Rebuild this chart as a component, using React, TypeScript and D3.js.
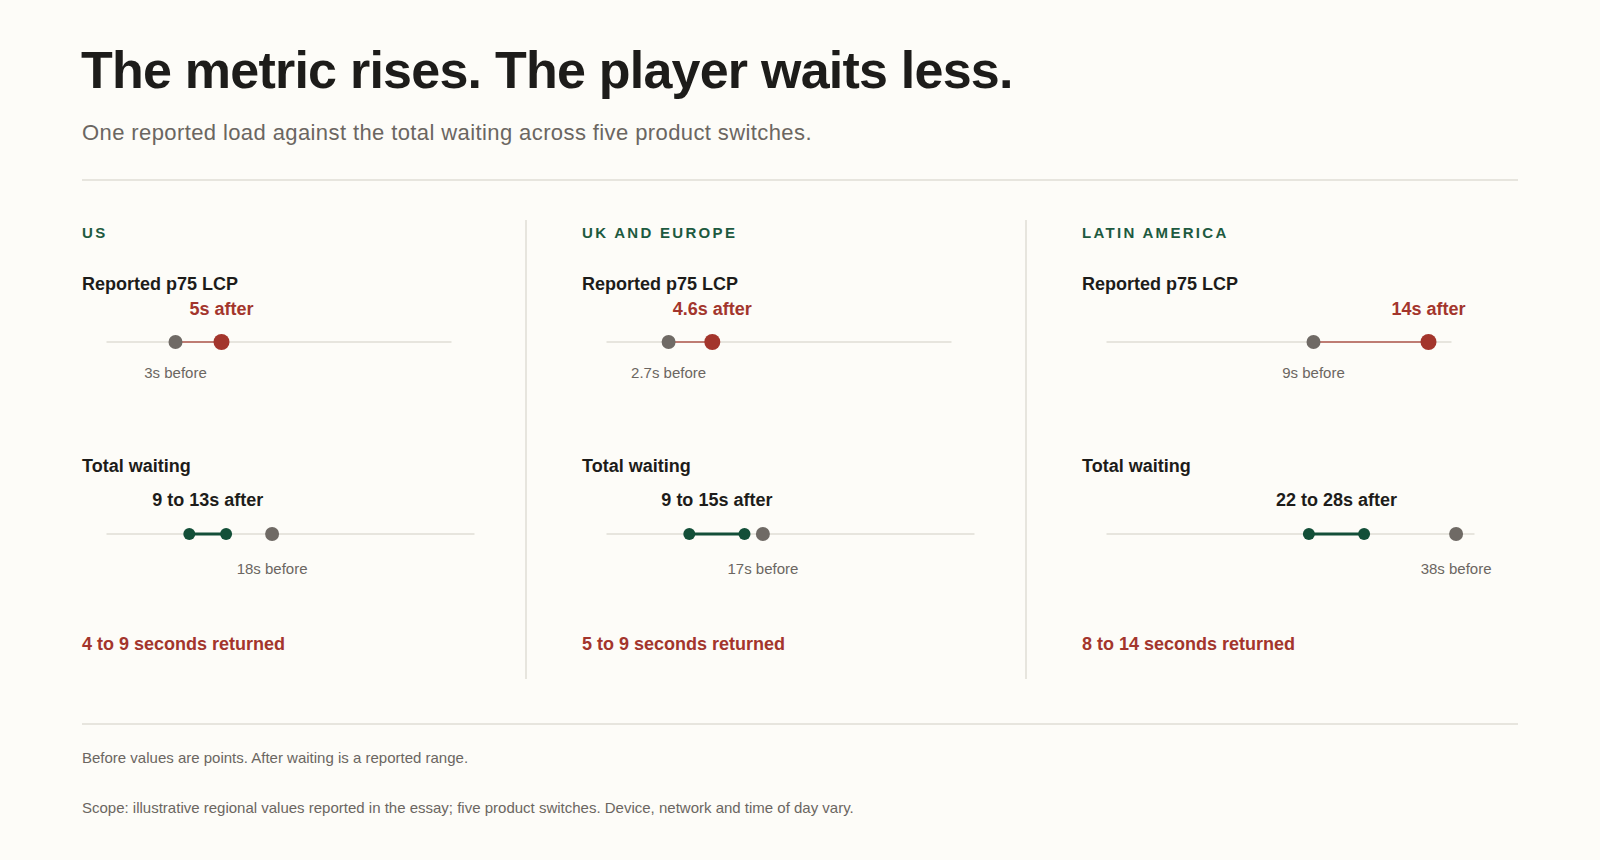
import React from "react";
import * as d3 from "d3";

const regions = ["US", "UK and Europe", "Latin America"];
const lcpBefore = [3, 2.7, 9];
const lcpAfter = [5, 4.6, 14];
const waitBefore = [18, 17, 38];
const waitAfterLow = [9, 9, 22];
const waitAfterHigh = [13, 15, 28];
const returnedLow = [4, 5, 8];
const returnedHigh = [9, 9, 14];

const lcpDomain = [0, 15];
const waitDomain = [0, 40];

const W = 1600;
const H = 860;
const FONT = "'Liberation Sans', Arial, Helvetica, sans-serif";
const BG = "#fdfcf8";
const RED = "#a3352c";
const GREEN = "#134f38";
const LABEL_GREEN = "#1d5a40";
const GRAY_DOT = "#6f6a65";
const GRAY_TEXT = "#6b6661";
const DARK = "#1d1c1a";
const RULE = "#e7e5de";

const colX = d3.scaleLinear().domain([0, 1]).range([82, 582]);

function fmt(v: number) {
  return `${v}s`;
}

function Region({ i }: { i: number }) {
  const x0 = colX(i);
  const lcpX = d3.scaleLinear().domain(lcpDomain).range([x0 + 24.5, x0 + 24.5 + 345]);
  const waitX = d3.scaleLinear().domain(waitDomain).range([x0 + 24.5, x0 + 24.5 + 368]);
  const lcpY = 342;
  const waitY = 534;
  const lo = waitX(waitAfterLow[i]);
  const hi = waitX(waitAfterHigh[i]);
  return (
    <g fontFamily={FONT}>
      <text x={x0} y={238} fontSize={15} fontWeight={700} fill={LABEL_GREEN} letterSpacing={2.3}>
        {regions[i].toUpperCase()}
      </text>
      <text x={x0} y={290} fontSize={18} fontWeight={700} fill={DARK}>
        Reported p75 LCP
      </text>
      <line x1={lcpX.range()[0]} x2={lcpX.range()[1]} y1={lcpY} y2={lcpY} stroke={RULE} strokeWidth={2} />
      <line x1={lcpX(lcpBefore[i])} x2={lcpX(lcpAfter[i])} y1={lcpY} y2={lcpY} stroke={RED} strokeOpacity={0.6} strokeWidth={2} />
      <circle cx={lcpX(lcpBefore[i])} cy={lcpY} r={7} fill={GRAY_DOT} />
      <circle cx={lcpX(lcpAfter[i])} cy={lcpY} r={8} fill={RED} />
      <text x={lcpX(lcpAfter[i])} y={315} textAnchor="middle" fontSize={18} fontWeight={700} fill={RED}>
        {fmt(lcpAfter[i])} after
      </text>
      <text x={lcpX(lcpBefore[i])} y={378} textAnchor="middle" fontSize={15} fill={GRAY_TEXT}>
        {fmt(lcpBefore[i])} before
      </text>

      <text x={x0} y={472} fontSize={18} fontWeight={700} fill={DARK}>
        Total waiting
      </text>
      <line x1={waitX.range()[0]} x2={waitX.range()[1]} y1={waitY} y2={waitY} stroke={RULE} strokeWidth={2} />
      <line x1={lo} x2={hi} y1={waitY} y2={waitY} stroke={GREEN} strokeWidth={3} />
      <circle cx={lo} cy={waitY} r={6} fill={GREEN} />
      <circle cx={hi} cy={waitY} r={6} fill={GREEN} />
      <circle cx={waitX(waitBefore[i])} cy={waitY} r={7} fill={GRAY_DOT} />
      <text x={(lo + hi) / 2} y={506} textAnchor="middle" fontSize={18} fontWeight={700} fill={DARK}>
        {waitAfterLow[i]} to {waitAfterHigh[i]}s after
      </text>
      <text x={waitX(waitBefore[i])} y={574} textAnchor="middle" fontSize={15} fill={GRAY_TEXT}>
        {fmt(waitBefore[i])} before
      </text>

      <text x={x0} y={650} fontSize={18} fontWeight={700} fill={RED}>
        {returnedLow[i]} to {returnedHigh[i]} seconds returned
      </text>
    </g>
  );
}

export default function App() {
  return (
    <div style={{ position: "fixed", left: 0, top: 0, width: W, height: H }}>
      <svg width={W} height={H} style={{ display: "block" }}>
        <rect width={W} height={H} fill={BG} />
        <text x={81} y={88} fontFamily={FONT} fontSize={52} fontWeight={700} fill={DARK} letterSpacing={-0.77}>
          The metric rises. The player waits less.
        </text>
        <text x={82} y={140} fontFamily={FONT} fontSize={22} fill={GRAY_TEXT} letterSpacing={0.4}>
          One reported load against the total waiting across five product switches.
        </text>
        <line x1={82} x2={1518} y1={180} y2={180} stroke={RULE} strokeWidth={2} />
        {regions.map((_, i) => (
          <Region key={i} i={i} />
        ))}
        {[1, 2].map((k) => (
          <line key={k} x1={colX(k) - 56} x2={colX(k) - 56} y1={220} y2={679} stroke={RULE} strokeWidth={2} />
        ))}
        <line x1={82} x2={1518} y1={724} y2={724} stroke={RULE} strokeWidth={2} />
        <text x={82} y={763} fontFamily={FONT} fontSize={15} fill={GRAY_TEXT}>
          Before values are points. After waiting is a reported range.
        </text>
        <text x={82} y={813} fontFamily={FONT} fontSize={15} fill={GRAY_TEXT}>
          Scope: illustrative regional values reported in the essay; five product switches. Device, network and time of day vary.
        </text>
      </svg>
    </div>
  );
}
